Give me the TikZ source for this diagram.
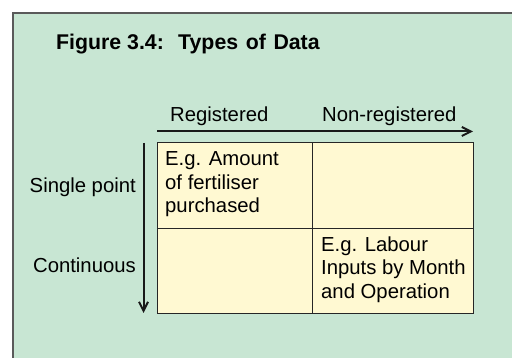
\documentclass[tikz,border=0pt]{standalone}
\usepackage{fontspec}
\setmainfont{Liberation Sans}
\usetikzlibrary{arrows.meta}
\definecolor{bggreen}{HTML}{C8E6D3}
\definecolor{cellyellow}{HTML}{FFF9D2}
\definecolor{framegray}{HTML}{5A5A5A}
\begin{document}
\begin{tikzpicture}[x=1pt,y=-1pt,
  cell/.style={draw=black!85, line width=1pt, fill=cellyellow, anchor=north west, inner sep=0pt},
  celltext/.style={anchor=north west, inner sep=0pt, align=left, font=\fontsize{20.3}{23.5}\selectfont},
  lbl/.style={inner sep=0pt, font=\fontsize{20.3}{24}\selectfont},
  axis/.style={line width=2pt, black!90, -{Straight Barb[length=9pt,width=9pt,line width=2pt]}}]
\useasboundingbox (0,0) rectangle (512,358);
\clip (0,0) rectangle (512,358);
\draw[framegray, line width=2pt, fill=bggreen] (13,13) rectangle (540,390);
\node[anchor=base west, inner sep=0pt, font=\fontsize{21.3}{25}\selectfont\bfseries] (title) at (56,50) {Figure 3.4:\hspace{0.3em} Types\hspace{0.08em} of\hspace{0.08em} Data};
\node[lbl, anchor=base west] (reg) at (170,122) {Registered};
\node[lbl, anchor=base west] (nonreg) at (322,122) {Non-registered};
\coordinate (ha) at (157,131.5);
\coordinate (hb) at (473,131.5);
\draw[axis] (ha) -- (hb);
\coordinate (va) at (143.5,143);
\coordinate (vb) at (143.5,313);
\draw[axis] (va) -- (vb);
\node[lbl, anchor=base east] (single) at (136,193) {Single point};
\node[lbl, anchor=base east] (cont) at (136,272.5) {Continuous};
\node[cell, minimum width=155pt, minimum height=86pt] (c11) at (157,142.5) {};
\node[cell, minimum width=161pt, minimum height=86pt] (c12) at (312,142.5) {};
\node[cell, minimum width=155pt, minimum height=84.5pt] (c21) at (157,228.5) {};
\node[cell, minimum width=161pt, minimum height=84.5pt] (c22) at (312,228.5) {};
\node[celltext] (t11) at (165,151.5) {E.g. Amount\\of fertiliser\\purchased};
\node[celltext] (t22) at (321,236.5) {E.g. Labour\\Inputs by Month\\and Operation};
\end{tikzpicture}
\end{document}
